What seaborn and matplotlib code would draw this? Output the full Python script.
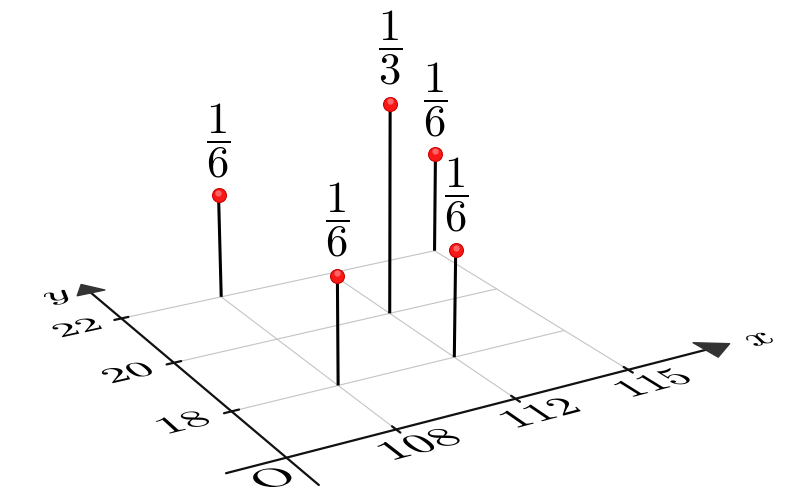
import matplotlib
matplotlib.use('Agg')
import matplotlib.pyplot as plt
import seaborn as sns
from matplotlib.textpath import TextPath
from matplotlib.patches import PathPatch
from matplotlib.transforms import Affine2D
from mpl_toolkits.mplot3d import art3d, proj3d
from mpl_toolkits.mplot3d.art3d import Poly3DCollection

sns.set_theme(style='white')
plt.rcParams['mathtext.fontset'] = 'cm'

# joint distribution of (x, y)
x_labels = ['108', '112', '115']
y_labels = ['18', '20', '22']
pt_x = ['108', '108', '112', '112', '115']
pt_y = ['18', '22', '18', '20', '22']
p_num = [1, 1, 1, 1, 1]
p_den = [6, 6, 6, 3, 6]

ORIGIN = 0.13          # where the two axes cross (category units)
PX_X, PX_Y = 137, 132  # size of one category step on x / y

xs = [x_labels.index(v) + 1 for v in pt_x]
ys = [y_labels.index(v) + 1 for v in pt_y]
ps = [n / d for n, d in zip(p_num, p_den)]

fig = plt.figure(figsize=(8, 5), dpi=100)
W = 853
cx, cy = 377.5, 295.5
ax = fig.add_axes([(cx - 0.5135 * W) / 800, (cy - 0.5135 * W) / 500, W / 800, W / 500],
                  projection='3d', computed_zorder=False)
ax.view_init(elev=20.5, azim=-120.0)
ax.set_proj_type('persp', focal_length=0.49)
ax.set_xlim(-0.5, 4.0)
ax.set_ylim(-0.5, 4.0)
ax.set_zlim(0, 0.4)
ax.set_box_aspect((4.5 * PX_X, 4.5 * PX_Y, 0.4 * 712), zoom=0.99)
ax.set_axis_off()


def flat_label(s, x, y, em):
    # text lying in the z=0 plane, reading along x
    tp = TextPath((0, 0), s, size=1)
    ext = tp.get_extents()
    tr = (Affine2D().translate(-(ext.x0 + ext.x1) / 2, -(ext.y0 + ext.y1) / 2)
          .scale(em / PX_X, em / PX_Y).translate(x, y))
    patch = PathPatch(tr.transform_path(tp), facecolor='black', edgecolor='none', zorder=6)
    ax.add_patch(patch)
    art3d.pathpatch_2d_to_3d(patch, z=0, zdir='z')


n = len(x_labels)
grid_kw = dict(color='#c4c4c4', lw=0.8, zorder=1)
for i in range(1, n + 1):
    ax.plot([ORIGIN, n], [i, i], [0, 0], **grid_kw)
    ax.plot([i, i], [ORIGIN, n], [0, 0], **grid_kw)

# axes with arrow heads
axis_kw = dict(color='#111111', lw=1.6, zorder=2)
ax.plot([-0.33, 3.75], [ORIGIN, ORIGIN], [0, 0], **axis_kw)
ax.plot([ORIGIN, ORIGIN], [-0.35, 3.65], [0, 0], **axis_kw)
heads = [
    [(3.95, ORIGIN, 0), (3.72, ORIGIN - 0.16, 0), (3.72, ORIGIN + 0.16, 0)],
    [(ORIGIN, 3.83, 0), (ORIGIN - 0.12, 3.62, 0), (ORIGIN + 0.12, 3.62, 0)],
]
ax.add_collection3d(Poly3DCollection(heads, facecolor='#333333', edgecolor='#333333',
                                     zorder=3))

# ticks and tick labels
for i, lab in enumerate(x_labels, start=1):
    ax.plot([i, i], [ORIGIN - 0.06, ORIGIN + 0.06], [0, 0], **axis_kw)
    flat_label('$' + lab + '$', i + 0.03, ORIGIN - 0.28, 55)
for i, lab in enumerate(y_labels, start=1):
    ax.plot([ORIGIN - 0.06, ORIGIN + 0.06], [i, i], [0, 0], **axis_kw)
    flat_label('$' + lab + '$', ORIGIN - 0.37, i + 0.02, 52)

flat_label('$x$', 4.2, ORIGIN - 0.05, 58)
flat_label('$y$', ORIGIN - 0.26, 3.66, 58)
flat_label(r'$\mathrm{O}$', ORIGIN - 0.22, ORIGIN - 0.22, 52)

# stems with balls
markerline, stemlines, baseline = ax.stem(xs, ys, ps)
baseline.set_visible(False)
stemlines.set_color('black')
stemlines.set_linewidth(2.2)
stemlines.set_zorder(4)
markerline.set_marker('o')
markerline.set_markersize(10)
markerline.set_markerfacecolor('#f81818')
markerline.set_markeredgecolor('#cc0000')
markerline.set_markeredgewidth(0.8)
markerline.set_zorder(5)
# small highlight on each ball
ax.plot(xs, ys, [p + 0.004 for p in ps], linestyle='none', marker='o', markersize=4.5,
        markerfacecolor='#ff7a7a', markeredgecolor='none', alpha=0.8, zorder=5)

# probability labels, placed in the projected 2D frame
M = ax.get_proj()
for x, y, p, a, b in zip(xs, ys, ps, p_num, p_den):
    px, py, _ = proj3d.proj_transform(x, y, p + 0.025, M)
    ax.text2D(px, py, r'$\dfrac{%d}{%d}$' % (a, b), transform=ax.transData,
              ha='center', va='bottom', fontsize=32, color='black', zorder=7)

fig.savefig('out.png', dpi=100)
